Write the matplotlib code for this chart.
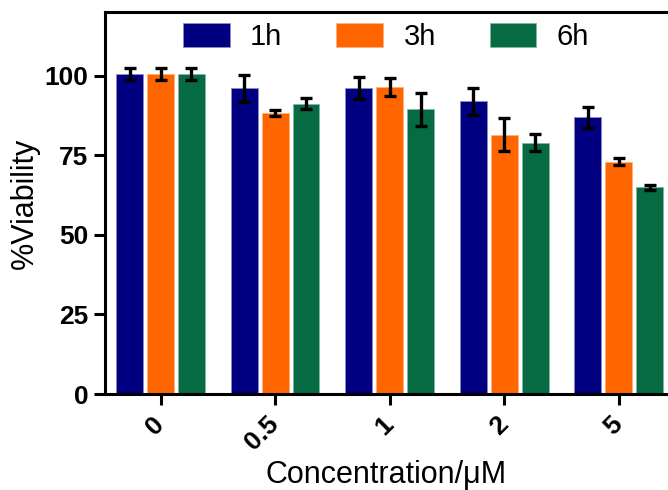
import numpy as np
from matplotlib import pyplot as plt

concentrations = ['0', '0.5', '1', '2', '5']
series = ['1h', '3h', '6h']
viability_1h = [100.5, 96.0, 96.2, 92.0, 87.0]
viability_3h = [100.5, 88.2, 96.5, 81.5, 73.0]
viability_6h = [100.5, 91.2, 89.5, 79.0, 65.0]
err_1h = [2.0, 4.3, 3.5, 4.2, 3.3]
err_3h = [2.0, 1.0, 2.8, 5.3, 1.2]
err_6h = [2.0, 1.8, 5.2, 2.8, 0.8]

colors = ['#000080', '#FF6600', '#066A43']
edges = ['#8C8CC8', '#FFB080', '#7FB8A0']

plt.rcParams['font.family'] = ['Liberation Sans', 'DejaVu Sans']

fig = plt.figure(figsize=(6.68, 4.9), dpi=100)
ax = fig.add_axes([0.1572, 0.1959, 0.8428, 0.7796])

x = np.arange(len(concentrations))
width = 0.235
step = 0.27
values = [viability_1h, viability_3h, viability_6h]
errors = [err_1h, err_3h, err_6h]
for i in range(3):
    ax.bar(x + (i - 1) * step, values[i], width, color=colors[i],
           edgecolor=edges[i], linewidth=0.6, label=series[i], zorder=2)
    ax.errorbar(x + (i - 1) * step, values[i], yerr=errors[i], fmt='none',
                ecolor='black', elinewidth=2.4, capsize=4, capthick=2.4, zorder=3)

ax.set_xlim(-0.485, 4.43)
ax.set_ylim(0, 120)
ax.set_yticks([0, 25, 50, 75, 100])
ax.set_xticks(x)
ax.set_xticklabels(concentrations, rotation=45, ha='right', va='center',
                   rotation_mode='anchor', fontsize=19, fontweight='bold')
for lab in ax.get_yticklabels():
    lab.set_fontsize(19)
    lab.set_fontweight('bold')

ax.tick_params(axis='both', direction='out', length=8, width=2.2)
ax.tick_params(axis='x', pad=11)
ax.tick_params(axis='y', pad=4)
for s in ['left', 'bottom', 'top']:
    ax.spines[s].set_linewidth(2.2)
ax.spines['right'].set_visible(False)

ax.set_ylabel('%Viability', fontsize=22, labelpad=3)
ax.set_xlabel('Concentration/μM', fontsize=22, labelpad=4)

fig.legend(loc='center', bbox_to_anchor=(0.578, 0.924), ncol=3, frameon=False,
           fontsize=21, handlelength=1.6, handleheight=0.9, handletextpad=0.7,
           columnspacing=1.85)

plt.savefig('out.png', dpi=100)
